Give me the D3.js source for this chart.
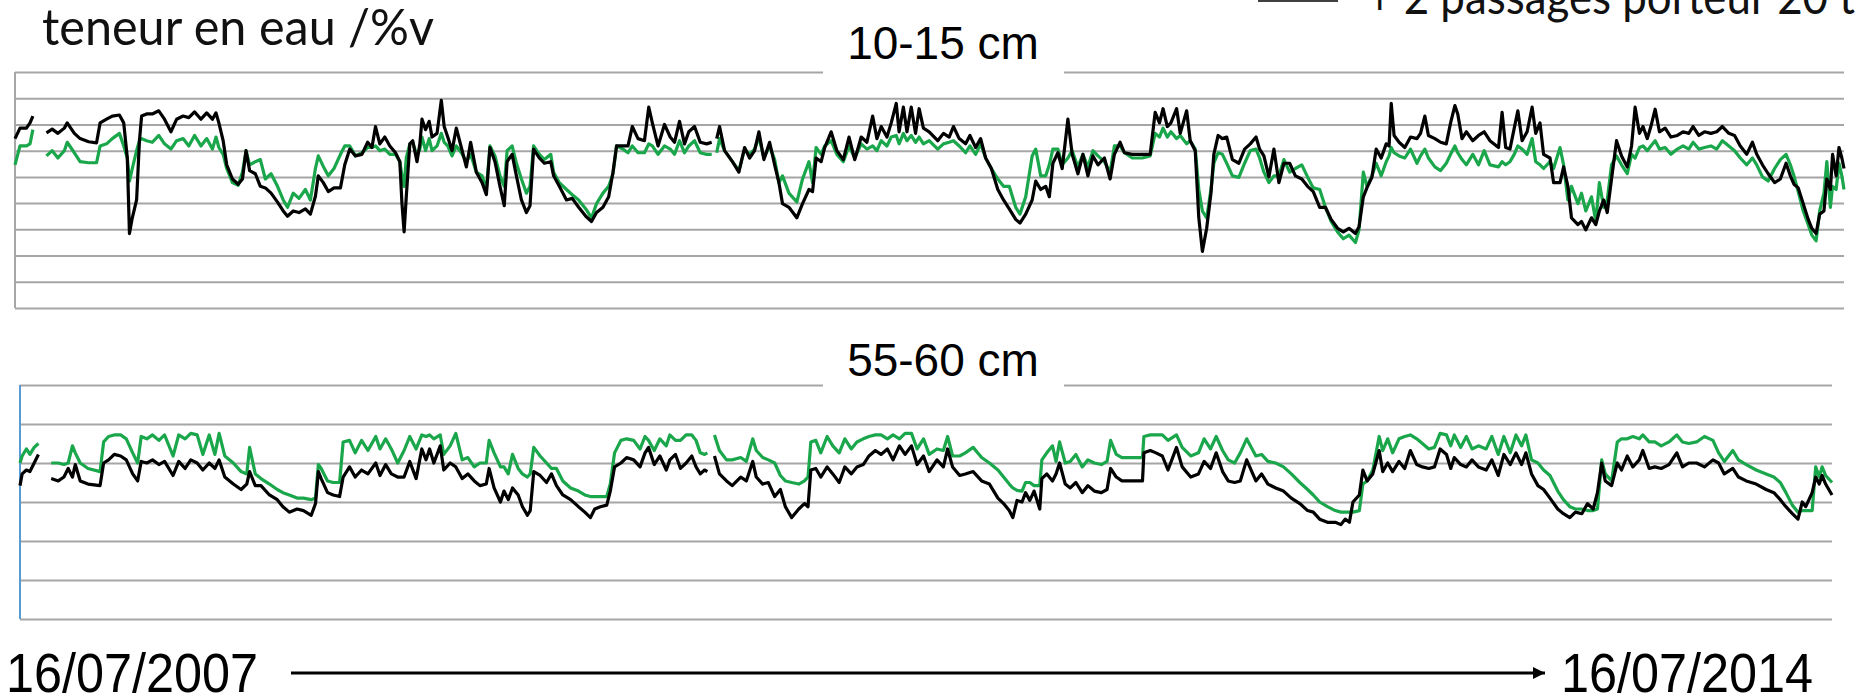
<!DOCTYPE html>
<html>
<head>
<meta charset="utf-8">
<script src="https://cdn.jsdelivr.net/npm/d3@7"></script>
<style>
  body { margin: 0; background: #fff; }
  svg { display: block; }
</style>
</head>
<body>
<div id="chart"></div>
<script>
"use strict";

// jours depuis le 16/07/2007 ; null = trou dans la mesure
const debut = new Date(2007, 6, 16);
const fin = new Date(2014, 6, 16);

const jours10 = [
  0,7,16,21,25,35,44,52,60,69, 73,83,91,103,114,119,128,136,146,152,
  157,160,164,170,174,177,184,192,201,209, 218,226,235,243,251,260,268,276,281,285,
  291,296,304,312,318,323,328,336,343,350, 358,367,375,381,389,397,406,413,420,424,
  431,438,446,455,461,468,476,485,493,499, 504,510,517,524,532,538,541,544,547,552,
  556,562,566,569,574,579,583,590,596,600, 605,611,617,624,631,637,645,653,659,664,
  671,678,684,688,695,701,708,715,720,725, 733,740,749,753,761,771,779,788,798,806,
  813,822,830,836,841,850,857,863,871,880, 886,891,899,908,916,922,929,936,942,950,
  958,967,974,977,981,985,992,1003,1012,1020, 1027,1034,1040,1047,1055,1062,1068,1073,1082,1093,
  1101,1110,1115,1120,1127,1132,1141,1149,1158,1166, 1174,1183,1191,1199,1205,1211,1219,1225,1232,1236,
  1242,1247,1253,1259,1264,1270,1278,1290,1298,1306, 1312,1320,1329,1335,1343,1350,1357,1365,1374,1382,
  1390,1399,1405,1413,1422,1427,1434,1441,1446,1451, 1458,1464,1472,1478,1486,1493,1500,1507,1514,1523,
  1531,1537,1545,1551,1562,1576,1587,1594,1600,1605, 1611,1616,1624,1629,1638,1643,1650,1655,1660,1666,
  1672,1676,1682,1688,1694,1702,1711,1719,1727,1735, 1740,1746,1753,1760,1767,1774,1782,1790,1799,1807,
  1815,1824,1832,1840,1849,1857,1865,1874,1879,1885, 1890,1897,1903,1910,1917,1921,1924,1928,1935,1943,
  1951,1960,1965,1971,1976,1985,1993,2001,2007,2013, 2017,2023,2029,2038,2046,2054,2062,2074,2079,2084,
  2090,2096,2101,2107,2114,2121,2126,2132,2137,2146, 2151,2160,2165,2171,2176,2185,2190,2196,2204,2210,
  2215,2221,2226,2232,2239,2246,2254,2260,2265,2271, 2276,2282,2287,2293,2299,2307,2315,2324,2332,2340,
  2346,2354,2362,2371,2379,2387,2396,2404,2412,2421, 2429,2435,2443,2451,2460,2468,2476,2482,2487,2493,
  2500,2507,2512,2518,2523,2529,2533,2538,2541,2546, 2550,2554,2557
];
const noir10 = [
  32.3,34.3,34.3,35.3,36.6,null,33.4,34.1,33.3,34.3, 35.3,33.3,32.3,31.7,31.5,35.3,36.0,36.6,36.8,35.3,
  28.6,14.2,17.2,20.6,31.9,36.6,37.0,37.0,37.6,36.0, 33.6,36.0,36.6,36.3,37.4,36.0,37.2,36.0,37.2,35.3,
  31.9,27.3,24.6,23.6,24.6,30.0,26.2,25.6,23.2,22.9, 21.9,20.2,18.5,17.5,18.5,18.2,18.9,17.9,21.3,25.2,
  23.9,22.2,22.9,22.9,27.3,30.3,29.0,29.3,31.6,30.6, 34.6,31.3,32.6,30.9,29.6,27.9,19.9,14.5,21.2,31.3,
  31.9,27.9,31.3,36.0,34.0,35.6,32.6,33.3,39.6,34.6, 32.6,30.0,34.3,30.6,26.9,31.6,25.9,23.9,21.6,30.6,
  27.9,23.2,19.5,27.9,29.3,25.2,20.6,18.2,19.5,30.3, 28.6,27.6,27.9,25.2,23.2,20.6,20.9,19.2,17.5,16.5,
  18.2,19.2,21.2,25.9,30.9,30.9,30.9,34.6,32.3,31.9, 38.3,35.3,30.9,35.0,32.6,31.6,35.6,31.3,33.6,34.6,
  31.6,31.3,31.6,null,32.3,34.6,30.0,27.9,25.9,30.6, 28.6,30.0,33.6,28.3,31.6,27.3,23.9,19.9,19.2,17.2,
  19.9,22.6,22.2,28.6,27.9,30.6,33.6,30.0,28.3,32.6, 28.3,32.6,31.6,36.6,32.3,34.6,32.6,35.3,39.0,33.6,
  38.3,33.6,38.3,33.3,38.0,34.3,33.6,31.9,33.3,32.6, 34.6,32.3,31.3,32.9,30.6,32.3,28.6,26.6,22.6,20.6,
  18.9,16.9,16.2,17.9,20.6,24.2,22.6,23.2,21.2,27.6, 29.6,26.6,36.0,29.3,25.6,29.3,25.2,29.0,27.3,28.6,
  24.6,29.3,31.6,29.6,29.3,29.3,29.3,37.3,35.3,38.0, 34.6,35.3,38.0,33.3,37.6,31.9,30.0,17.2,10.8,15.2,
  21.9,29.3,32.9,32.3,32.6,28.3,27.6,30.3,31.3,32.6, 30.3,29.0,25.0,30.3,23.9,27.6,27.6,25.2,24.6,23.2,
  22.2,19.2,19.2,16.9,15.2,14.5,15.2,14.2,15.5,21.2, 22.9,24.9,30.3,28.6,31.3,30.9,39.0,32.9,31.6,30.6,
  32.6,32.3,33.3,36.6,32.9,32.3,31.6,31.3,35.3,38.6, 37.0,32.3,33.6,31.9,32.9,33.6,31.9,30.6,37.3,30.6,
  30.3,34.3,37.6,31.9,33.6,38.3,33.3,35.3,29.3,28.6, 23.9,23.9,26.9,23.2,17.2,15.9,16.5,14.9,17.2,15.9,
  18.5,20.6,18.2,24.6,31.9,29.0,26.9,30.9,38.3,33.3, 34.6,32.3,34.6,37.9,33.6,34.3,32.6,32.9,33.6,33.3,
  34.6,32.9,33.6,33.3,33.6,34.6,33.3,32.9,30.9,29.3, 31.6,29.3,27.3,25.6,23.9,24.6,27.6,25.2,23.6,22.9,
  19.9,16.9,15.2,14.2,17.9,18.5,24.6,22.6,29.3,25.2, 30.6,28.6,26.6
];
const vert10 = [
  27.3,30.9,30.9,31.3,34.0,null,29.0,30.0,28.6,30.0, 31.6,29.6,27.9,27.7,27.7,30.9,31.3,32.3,33.3,30.9,
  28.6,24.2,26.6,30.0,31.9,32.3,31.9,31.6,32.9,31.3, 30.3,31.9,32.3,30.9,32.9,30.9,32.3,30.3,32.6,30.6,
  29.3,26.6,23.9,23.4,25.9,30.0,27.3,27.9,28.3,24.6, 25.6,23.2,20.6,19.2,21.9,20.9,22.6,20.6,26.6,29.0,
  27.0,25.2,26.6,29.3,30.9,30.9,29.0,29.6,30.6,30.6, 30.9,30.0,30.3,29.3,29.3,27.9,25.2,23.2,28.6,31.3,
  31.6,29.0,30.3,32.6,30.0,32.3,30.0,30.9,33.3,31.6, 30.9,29.0,30.9,29.6,27.9,29.3,25.9,25.2,22.6,30.9,
  29.0,25.2,23.2,30.0,30.9,27.6,24.6,21.9,23.2,30.9, 29.3,28.3,29.3,25.9,23.9,22.6,21.6,20.6,18.9,17.2,
  19.9,21.9,23.2,25.6,30.9,30.3,29.6,30.9,29.6,29.6, 31.3,30.9,29.3,30.9,30.3,29.3,31.9,29.6,30.9,31.9,
  29.6,29.3,29.3,null,29.6,32.3,30.0,27.9,26.2,30.3, 29.3,30.3,32.6,28.6,30.9,28.3,23.9,25.2,21.9,20.2,
  24.6,27.9,23.9,30.6,29.3,30.9,31.9,29.3,27.9,30.9, 28.6,31.3,30.3,30.9,30.0,31.9,30.9,32.6,32.9,31.3,
  33.3,31.9,32.9,31.6,32.6,31.3,31.9,30.3,31.3,31.6, 31.9,30.9,29.6,30.9,29.3,31.3,28.6,26.6,24.6,23.2,
  23.2,19.2,17.9,21.2,29.0,30.3,25.2,25.2,27.3,30.3, 30.3,27.3,28.6,30.0,26.9,29.3,26.9,30.0,29.0,27.9,
  25.9,30.9,30.9,29.6,28.6,28.6,29.0,33.3,32.6,34.3, 32.6,33.6,32.3,32.9,31.3,31.9,30.3,22.6,18.5,17.2,
  22.6,27.6,29.6,29.3,27.6,25.2,24.9,27.6,30.0,30.3, 28.6,25.9,23.9,25.2,25.2,28.3,25.9,26.6,27.3,25.0,
  22.9,22.6,19.2,16.5,14.5,13.2,13.9,12.5,14.9,25.9, 23.2,25.2,27.6,25.2,27.9,29.0,30.6,29.6,29.0,28.6,
  30.3,27.6,29.0,30.3,28.6,26.9,26.2,27.6,29.3,30.9, 29.6,28.3,27.3,29.3,27.3,30.0,27.3,26.9,27.9,27.3,
  27.9,29.3,30.9,30.3,29.3,32.3,27.9,27.3,26.6,27.9, 26.6,30.6,27.3,20.6,23.2,19.9,21.9,18.5,21.2,16.5,
  23.9,19.2,20.6,27.3,29.0,27.3,25.6,29.3,28.6,30.6, 30.9,30.0,30.9,31.9,30.3,30.6,29.3,30.3,30.9,30.3,
  31.6,30.3,30.6,30.9,30.3,31.9,30.9,30.0,28.6,27.3, 28.6,27.3,25.0,24.2,26.6,28.3,29.3,27.3,25.2,22.2,
  18.5,15.9,13.9,12.8,18.5,21.9,27.9,19.2,23.2,22.6, 27.6,25.2,22.6
];

const jours55 = [
  0,3,9,14,20,26,35,44,54,62, 68,74,78,85,96,113,118,125,133,142,
  150,159,166,171,179,187,196,204,216,224, 233,241,250,258,267,275,281,289,301,312,
  320,324,332,340,352,363,371,380,391,400, 411,417,421,425,434,442,451,456,465,473,
  482,491,502,508,516,524,533,542,550,559, 567,573,578,584,593,598,607,615,624,632,
  641,649,658,662,669,678,683,689,695,703, 709,716,720,725,734,743,750,757,766,777,
  788,797,805,811,819,828,833,839,848,856, 866,875,882,887,895,903,912,917,925,932,
  940,948,954,960,966,970,975,980,987,997, 1005,1017,1025,1034,1039,1048,1056,1065,1073,1080,
  1089,1099,1107,1112,1116,1123,1130,1139,1147,1156, 1164,1173,1181,1190,1198,1207,1215,1224,1232,1241,
  1249,1258,1266,1275,1283,1294,1303,1309,1316,1326, 1334,1345,1357,1368,1380,1388,1396,1401,1407,1414,
  1419,1425,1431,1439,1442,1449,1457,1462,1467,1475, 1482,1490,1499,1507,1516,1526,1534,1539,1547,1555,
  1569,1584,1586,1595,1603,1612,1620,1632,1640,1652, 1663,1671,1680,1688,1697,1705,1714,1722,1731,1744,
  1752,1761,1772,1783,1794,1806,1817,1825,1834,1845, 1856,1864,1870,1876,1881,1890,1895,1901,1909,1918,
  1923,1930,1937,1946,1954,1962,1971,1979,1988,1996, 2004,2013,2019,2024,2033,2041,2049,2058,2069,2077,
  2086,2094,2103,2111,2119,2125,2133,2142,2150,2159, 2170,2178,2187,2195,2204,2212,2220,2226,2232,2237,
  2246,2254,2260,2268,2276,2285,2290,2299,2307,2316, 2327,2338,2346,2355,2366,2377,2389,2397,2405,2417,
  2425,2436,2450,2464,2475,2484,2492,2501,2509,2515, 2520,2529,2534,2539,2543,2548,2557
];
const noir55 = [
  17.1,18.6,19.1,18.9,20.0,21.1,null,18.0,17.7,18.2, 19.3,18.2,19.8,17.7,17.3,17.1,20.0,20.4,21.1,20.9,
  20.4,18.6,17.7,20.2,20.0,20.4,19.8,20.2,18.4,20.2, 19.3,20.4,20.0,19.1,20.0,19.3,20.4,18.2,17.3,16.6,
  17.3,18.9,17.1,17.1,15.9,15.3,14.4,13.7,14.1,13.9, 13.3,14.8,18.9,18.0,16.2,15.9,15.7,18.2,19.5,18.2,
  19.1,18.6,20.0,18.4,19.8,18.6,18.2,18.2,20.2,18.0, 21.8,20.4,21.8,20.0,22.2,19.1,20.0,19.5,18.0,18.6,
  17.7,17.1,17.3,19.3,16.8,15.0,16.4,15.3,16.8,15.9, 14.4,13.3,13.9,18.9,18.4,17.5,18.6,17.1,15.9,15.3,
  14.4,13.7,13.0,14.1,14.4,14.6,16.4,19.5,20.0,20.7, 20.4,19.5,21.3,22.0,19.8,20.9,19.1,20.4,21.1,19.3,
  20.0,20.9,19.5,18.6,19.1,18.9,null,20.9,18.6,17.7, 17.1,18.2,17.7,20.2,18.2,17.3,17.5,15.7,16.6,14.4,
  13.0,14.1,14.8,14.4,19.1,19.3,18.2,19.5,18.6,17.5, 19.5,18.6,19.5,19.8,20.9,21.6,21.1,21.8,20.4,22.2,
  21.1,22.2,19.8,20.9,18.9,20.4,19.5,21.8,19.5,18.4, 18.6,18.9,17.7,17.3,15.5,14.8,13.9,13.0,15.2,15.0,
  16.2,15.2,16.4,14.1,18.0,18.6,17.7,18.6,20.0,17.3, 16.8,17.5,16.2,17.1,16.4,16.2,16.6,19.3,18.2,17.7,
  17.7,17.7,21.3,21.6,21.3,20.9,19.1,22.0,19.5,18.2, 18.6,20.2,19.3,21.3,18.9,17.7,17.5,17.7,20.4,17.7,
  18.6,17.3,16.8,16.4,15.5,14.8,13.9,13.7,12.8,12.4, 12.4,12.1,12.8,12.4,15.0,15.9,19.1,17.7,18.6,21.6,
  18.9,20.0,18.9,20.2,19.3,21.6,19.8,19.5,19.3,19.5, 21.8,21.1,19.3,20.7,19.8,19.5,20.4,19.5,19.1,20.4,
  18.4,21.1,19.8,21.3,19.8,21.3,18.6,17.1,16.6,15.5, 14.1,13.5,13.0,13.7,13.5,14.8,14.1,16.2,20.0,17.7,
  17.1,20.0,19.1,20.9,19.5,20.4,21.6,19.3,19.5,19.3, 19.8,21.3,19.5,20.0,20.0,19.5,20.4,20.0,18.6,19.3,
  18.2,17.7,17.3,16.6,16.2,15.3,14.4,13.5,12.8,15.0, 14.4,16.2,18.2,17.3,18.4,17.3,15.9
];
const vert55 = [
  20.0,20.9,21.8,21.1,22.0,22.5,null,20.0,20.0,19.8, 20.0,22.2,21.3,20.0,19.3,18.9,22.7,23.4,23.6,23.6,
  23.1,21.3,20.0,23.4,23.1,23.6,22.9,23.6,20.9,23.6, 23.1,23.8,23.6,21.1,23.6,21.1,23.8,20.9,20.0,18.9,
  18.6,22.0,18.6,18.0,17.3,16.6,16.2,15.9,15.5,15.5, 15.3,15.5,19.8,19.3,17.7,17.5,17.5,22.7,22.9,21.3,
  22.9,21.6,23.4,21.8,23.1,21.8,20.0,21.6,23.4,21.8, 23.6,23.4,23.6,23.1,23.6,21.1,22.2,23.8,20.4,20.7,
  19.5,20.0,20.0,22.9,21.3,19.5,19.5,18.6,21.1,19.3, 18.6,18.2,18.6,22.0,20.9,20.0,19.3,19.3,17.7,16.8,
  16.4,15.9,15.7,15.7,15.7,15.7,17.3,21.3,22.9,23.1, 22.9,21.8,23.4,22.9,21.6,23.1,22.2,23.6,22.9,22.9,
  23.6,23.6,22.9,21.3,21.1,21.3,null,23.6,21.6,20.4, 20.4,20.7,20.2,23.1,21.6,20.7,20.4,20.0,18.4,17.7,
  17.5,17.3,17.7,18.2,22.7,22.9,21.3,23.4,22.2,21.3, 23.1,21.8,22.7,23.1,23.4,23.6,23.6,23.1,23.6,23.1,
  23.8,23.8,21.8,23.1,21.1,21.8,21.6,23.4,20.9,20.9, 21.3,22.0,20.7,20.0,19.1,18.2,17.3,16.8,16.5,16.4,
  17.5,17.5,17.1,17.1,20.4,21.3,22.2,20.2,22.7,20.0, 20.2,21.1,19.5,20.4,20.0,19.8,20.2,22.9,21.1,20.7,
  20.7,20.7,23.4,23.6,23.6,23.6,22.9,23.6,22.0,20.9, 21.3,23.1,21.8,23.4,21.6,20.4,20.0,21.3,23.1,20.9,
  21.1,20.2,20.0,19.5,18.6,17.5,16.6,15.9,15.0,14.4, 13.9,13.7,13.7,13.7,13.7,13.9,17.3,17.7,19.1,23.4,
  21.6,23.1,21.3,23.1,23.4,23.6,23.1,22.5,21.8,22.0, 23.8,23.6,22.2,23.6,22.0,23.4,21.8,22.2,21.8,23.4,
  21.1,23.4,21.3,23.6,22.2,23.6,20.4,20.0,19.1,18.4, 16.4,15.3,14.4,14.1,14.1,13.9,13.9,14.1,20.4,18.6,
  17.7,22.7,23.1,23.1,23.4,23.1,23.6,22.7,22.7,22.2, 22.7,23.6,22.7,22.5,22.7,23.4,22.9,21.3,20.2,21.6,
  20.4,19.8,19.1,18.6,18.2,17.5,16.2,14.6,13.7,13.9, 13.9,13.9,19.5,18.2,19.5,18.4,17.5
];

const titreAxe = "teneur en eau /%v";
const legende = "+ 2 passages porteur 20 t";
const profondeurs = ["10-15 cm", "55-60 cm"];
const datesAxe = ["16/07/2007", "16/07/2014"];

const W = 1863, H = 698;
const svg = d3.select("#chart").append("svg")
    .attr("width", W)
    .attr("height", H)
    .style("font-family", "Lato, 'Open Sans', sans-serif");

svg.append("rect").attr("width", W).attr("height", H).attr("fill", "#fff");

// titre et légende
svg.append("text")
    .attr("x", 42).attr("y", 45)
    .attr("font-size", 50)
    .attr("textLength", 392).attr("lengthAdjust", "spacingAndGlyphs")
    .attr("fill", "#111")
    .text(titreAxe);

svg.append("line")
    .attr("x1", 1258).attr("x2", 1338).attr("y1", 1).attr("y2", 1)
    .attr("stroke", "#404040").attr("stroke-width", 2);
svg.append("text")
    .attr("x", 1367).attr("y", 14)
    .attr("font-size", 48)
    .attr("textLength", 488).attr("lengthAdjust", "spacingAndGlyphs")
    .attr("fill", "#111")
    .text(legende);

function panneau(p) {
    const x = d3.scaleTime().domain([debut, fin]).range([p.left, p.right]);
    const y = d3.scaleLinear().domain([0, p.max]).range([p.bottom, p.top]);
    const g = svg.append("g");

    // lignes de grille
    const grille = g.append("g")
        .attr("transform", `translate(${p.left},0)`)
        .call(d3.axisRight(y)
            .tickValues(d3.range(0, p.max + 1, 5))
            .tickSize(p.right - p.left)
            .tickFormat(""));
    grille.select(".domain").remove();
    grille.selectAll("line").attr("stroke", "#a6a6a6").attr("stroke-width", 2);

    g.append("line")
        .attr("x1", p.left).attr("x2", p.left)
        .attr("y1", p.top).attr("y2", p.bottom)
        .attr("stroke", p.axe).attr("stroke-width", 2);

    const pts = p.jours.map((j, i) => ({
        d: d3.timeDay.offset(debut, j),
        noir: p.noir[i],
        vert: p.vert[i]
    }));

    const ligne = cle => d3.line()
        .defined(d => d[cle] !== null)
        .x(d => x(d.d))
        .y(d => y(d[cle]));

    g.append("path").datum(pts)
        .attr("fill", "none").attr("stroke", "#1aa64a")
        .attr("stroke-width", 3.2).attr("stroke-linejoin", "round")
        .attr("d", ligne("vert"));
    g.append("path").datum(pts)
        .attr("fill", "none").attr("stroke", "#000")
        .attr("stroke-width", 3.2).attr("stroke-linejoin", "round")
        .attr("d", ligne("noir"));

    // titre du panneau, sur fond blanc qui coupe la ligne du haut
    g.append("rect")
        .attr("x", 823).attr("y", p.top - 40)
        .attr("width", 241).attr("height", 46)
        .attr("fill", "#fff");
    g.append("text")
        .attr("x", 943).attr("y", p.titreY)
        .attr("text-anchor", "middle")
        .attr("font-family", "'Liberation Sans', Arial, sans-serif")
        .attr("font-size", 46)
        .attr("fill", "#000")
        .text(p.titre);
}

panneau({ jours: jours10, noir: noir10, vert: vert10, max: 45,
    left: 15, right: 1844, top: 72, bottom: 308,
    axe: "#a6a6a6", titre: profondeurs[0], titreY: 59 });
panneau({ jours: jours55, noir: noir55, vert: vert55, max: 30,
    left: 20, right: 1832, top: 385, bottom: 619,
    axe: "#5b9bd5", titre: profondeurs[1], titreY: 376 });

// axe du temps
svg.append("defs").append("marker")
    .attr("id", "fleche")
    .attr("viewBox", "0 0 10 10")
    .attr("refX", 10).attr("refY", 5)
    .attr("markerWidth", 5).attr("markerHeight", 4)
    .attr("orient", "auto")
    .append("path").attr("d", "M0,0L10,5L0,10z").attr("fill", "#000");

svg.append("line")
    .attr("x1", 291).attr("x2", 1545).attr("y1", 673).attr("y2", 673)
    .attr("stroke", "#000").attr("stroke-width", 3)
    .attr("marker-end", "url(#fleche)");

svg.selectAll(".date").data(datesAxe).join("text")
    .attr("class", "date")
    .attr("x", (d, i) => i === 0 ? 6 : 1561)
    .attr("y", 692)
    .attr("font-family", "'Liberation Sans Narrow', 'Liberation Sans', sans-serif")
    .attr("font-size", 56)
    .attr("textLength", 252).attr("lengthAdjust", "spacingAndGlyphs")
    .attr("fill", "#000")
    .text(d => d);
</script>
</body>
</html>
